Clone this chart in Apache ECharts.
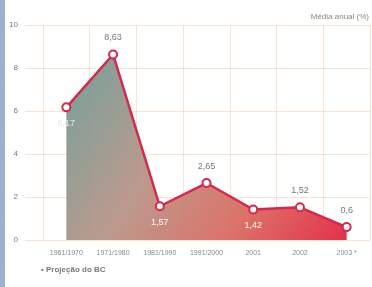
<!DOCTYPE html>
<html>
<head>
<meta charset="utf-8">
<script src="https://cdn.jsdelivr.net/npm/echarts@6/dist/echarts.min.js"></script>
<style>
  html, body { margin: 0; padding: 0; background: #fff; }
  #main { width: 372px; height: 287px; }
</style>
</head>
<body>
<div id="main"></div>
<script>
var periodos = ['1961/1970', '1971/1980', '1981/1990', '1991/2000', '2001', '2002', '2003 *'];
var media = [6.17, 8.63, 1.57, 2.65, 1.42, 1.52, 0.6];
var rotulos = ['6,17', '8,63', '1,57', '2,65', '1,42', '1,52', '0,6'];
var posRotulo = ['bottom', 'top', 'bottom', 'top', 'bottom', 'top', 'top'];
var corRotulo = ['#e8e8e8', '#777', '#fff', '#777', '#fff', '#777', '#777'];

var chartDom = document.getElementById('main');
var myChart = echarts.init(chartDom);
var option;

var gridLine = 'rgba(243, 212, 185, 0.65)';

option = {
  animation: false,
  textStyle: { fontFamily: 'Liberation Sans, Arial, sans-serif' },
  graphic: [
    { type: 'rect', left: 0, top: 0, shape: { width: 5, height: 287 }, style: { fill: '#9fb2cd' } },
    { type: 'text', right: 3, top: 13, style: { text: 'Média anual (%)', fill: '#888', fontSize: 8 } },
    { type: 'text', left: 41, top: 266, style: { text: '• Projeção do BC', fill: '#777', fontSize: 8, fontWeight: 'bold' } }
  ],
  grid: [
    { left: 25, right: 2, top: 25, bottom: 47 },
    { left: 43, right: 2, top: 25, bottom: 47 }
  ],
  xAxis: [
    { gridIndex: 0, type: 'category', data: [''], show: false },
    {
      gridIndex: 1,
      type: 'category',
      data: periodos,
      z: 5,
      axisLine: { show: false },
      axisTick: { show: false },
      axisLabel: { color: '#888', fontSize: 7, margin: 10, interval: 0 },
      splitLine: { show: true, interval: 0, lineStyle: { color: gridLine, width: 1 } }
    }
  ],
  yAxis: [
    {
      gridIndex: 0,
      type: 'value',
      min: 0,
      max: 10,
      interval: 2,
      z: 5,
      axisLine: { show: false },
      axisTick: { show: false },
      axisLabel: { color: '#777', fontSize: 8, margin: 7 },
      splitLine: { lineStyle: { color: gridLine, width: 1 } }
    },
    { gridIndex: 1, type: 'value', min: 0, max: 10, show: false }
  ],
  series: [
    {
      type: 'line',
      xAxisIndex: 1,
      yAxisIndex: 1,
      z: 6,
      data: media.map(function (v, i) {
        return {
          value: v,
          label: { position: posRotulo[i], color: corRotulo[i] }
        };
      }),
      symbol: 'emptyCircle',
      symbolSize: 8,
      lineStyle: { color: '#d6284a', width: 2.5 },
      itemStyle: { color: '#d6284a', borderWidth: 2 },
      label: {
        show: true,
        fontSize: 9,
        distance: 7,
        formatter: function (p) { return rotulos[p.dataIndex]; }
      },
      areaStyle: {
        opacity: 0.92,
        color: new echarts.graphic.LinearGradient(0, 0, 1, 1, [
          { offset: 0, color: '#659a93' },
          { offset: 0.4, color: '#b89184' },
          { offset: 0.7, color: '#d9675c' },
          { offset: 1, color: '#e2203c' }
        ])
      }
    }
  ]
};

option && myChart.setOption(option);
</script>
</body>
</html>
